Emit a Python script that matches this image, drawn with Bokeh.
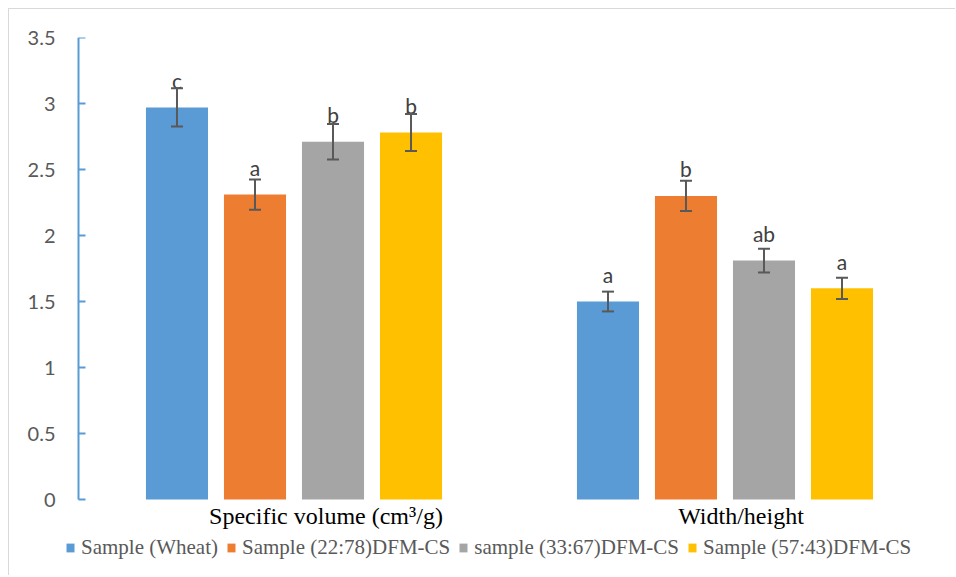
from bokeh.plotting import figure
from bokeh.models import ColumnDataSource, Range1d, Whisker, TeeHead, Legend, LegendItem, FixedTicker, LinearAxis
from bokeh.transform import dodge
from bokeh.core.properties import value
from bokeh.embed import file_html
from bokeh.resources import INLINE

groups = ["Specific volume (cm³/g)", "Width/height"]
series = ["Sample (Wheat)", "Sample (22:78)DFM-CS", "sample (33:67)DFM-CS", "Sample (57:43)DFM-CS"]
colors = ["#5B9BD5", "#ED7D31", "#A5A5A5", "#FFC000"]
wheat = [2.97, 1.50]
s2278 = [2.31, 2.30]
s3367 = [2.71, 1.81]
s5743 = [2.78, 1.60]
err_wheat = [0.145, 0.075]
err_2278 = [0.115, 0.115]
err_3367 = [0.135, 0.09]
err_5743 = [0.14, 0.08]
let_wheat = ["c", "a"]
let_2278 = ["a", "b"]
let_3367 = ["b", "ab"]
let_5743 = ["b", "a"]
y_ticks = [0, 0.5, 1, 1.5, 2, 2.5, 3, 3.5]
y_tick_labels = ["0", "0.5", "1", "1.5", "2", "2.5", "3", "3.5"]

vals = [wheat, s2278, s3367, s5743]
errs = [err_wheat, err_2278, err_3367, err_5743]
lets = [let_wheat, let_2278, let_3367, let_5743]
offsets = [-0.2715, -0.0905, 0.0905, 0.2715]
bar_w = 0.144
label_shift = [32, 16]
centers = [i + 0.5 for i in range(len(groups))]

p = figure(x_range=Range1d(-0.0325, len(groups) + 0.0186), y_range=Range1d(-0.583, 3.5),
           width=947, height=567,
           output_backend="svg", toolbar_location=None, x_axis_location=None,
           min_border_left=55, min_border_right=8, min_border_top=28, min_border_bottom=0)
p.styles = {"border-top": "1px solid #d9d9d9", "border-left": "1px solid #d9d9d9",
            "margin-left": "8px", "margin-top": "8px"}
p.outline_line_color = None
p.xgrid.grid_line_color = None
p.ygrid.grid_line_color = None
p.background_fill_color = "white"
p.border_fill_color = "white"

items = []
for name, col, v, e, l, off in zip(series, colors, vals, errs, lets, offsets):
    src = ColumnDataSource(dict(x=centers, val=v,
                                upper=[a + b for a, b in zip(v, e)],
                                lower=[a - b for a, b in zip(v, e)],
                                letter=l))
    r = p.vbar(x=dodge("x", off), top="val", width=bar_w, source=src,
               fill_color=col, line_color=None)
    items.append(LegendItem(label=name, renderers=[r]))
    w = Whisker(base=dodge("x", off), upper="upper", lower="lower", source=src,
                line_color="#595959", line_width=2, level="overlay",
                upper_head=TeeHead(size=12, line_color="#595959", line_width=2),
                lower_head=TeeHead(size=12, line_color="#595959", line_width=2))
    p.add_layout(w)
    p.text(x=dodge("x", off), y="val", text="letter", source=src,
           y_offset=-27, text_align="center", text_baseline="alphabetic",
           text_font=value("Lato"), text_font_size="21px", text_color="#404040")

# category labels under the bar groups
for g, c, sh in zip(groups, centers, label_shift):
    p.text(x=[c], y=[y_ticks[0]], text=[g], x_offset=sh, y_offset=16,
           text_align="center", text_baseline="middle",
           text_font=value("Liberation Serif"), text_font_size="24px", text_color="#000000")

# axis line and ticks at x = 0
ax = p.yaxis[0]
ax.fixed_location = 0
ax.ticker = FixedTicker(ticks=y_ticks)
ax.bounds = (y_ticks[0], y_ticks[-1])
ax.major_label_overrides = {t: "" for t in y_ticks}
ax.major_label_standoff = 0
ax.axis_line_color = "#5B9BD5"
ax.axis_line_width = 2
ax.major_tick_line_color = "#5B9BD5"
ax.major_tick_line_width = 2
ax.major_tick_in = 7
ax.major_tick_out = 0
ax.minor_tick_line_color = None

# tick labels in the left panel
lab = LinearAxis(ticker=FixedTicker(ticks=y_ticks),
                 major_label_overrides={t: s for t, s in zip(y_ticks, y_tick_labels)},
                 axis_line_color=None, major_tick_line_color=None, minor_tick_line_color=None,
                 major_tick_in=0, major_tick_out=0, major_label_standoff=9,
                 major_label_text_font="Lato", major_label_text_font_size="20px",
                 major_label_text_color="#595959")
p.add_layout(lab, "left")

legend = Legend(items=items, orientation="horizontal", location=(1, 16),
                glyph_width=10, glyph_height=11, label_standoff=6, spacing=8,
                label_text_font="Liberation Serif", label_text_font_size="21px",
                label_text_color="#595959", border_line_color=None,
                margin=0, padding=0, background_fill_alpha=0)
p.add_layout(legend)

open("out.html", "w").write(file_html(p, INLINE))
